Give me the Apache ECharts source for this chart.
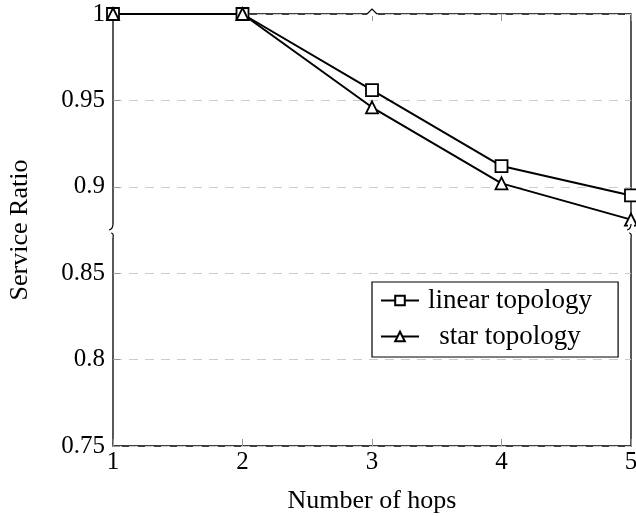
<!DOCTYPE html>
<html>
<head>
<meta charset="utf-8">
<script src="https://cdn.jsdelivr.net/npm/echarts@6/dist/echarts.min.js"></script>
<style>
  html, body { margin: 0; padding: 0; background: #fff; }
  #chart { width: 636px; height: 516px; }
</style>
</head>
<body>
<div id="chart"></div>
<script>
const hops = [1, 2, 3, 4, 5]
const linearTopology = [1, 1, 0.956, 0.912, 0.895]
const starTopology = [1, 1, 0.946, 0.902, 0.881]
const yTicks = [0.75, 0.8, 0.85, 0.9, 0.95, 1]

const font = 'Liberation Serif'
const chart = echarts.init(document.getElementById('chart'))

const pair = (xs, ys) => xs.map((x, i) => [x, ys[i]])
const tickFmt = v => {
  const t = yTicks.find(k => Math.abs(k - v) < 1e-6)
  return t === undefined ? '' : String(t)
}
const tick = { show: true, inside: true, length: 7, lineStyle: { color: '#999', width: 1 } }

chart.setOption({
  animation: false,
  grid: {
    left: 113, right: 5, top: 14, bottom: 70, outerBoundsMode: 'none',
    show: true, borderColor: '#000', borderWidth: 1.3,
  },
  xAxis: [{
    type: 'value', min: 1, max: 5, interval: 1,
    name: 'Number of hops', nameLocation: 'middle', nameGap: 42,
    nameTextStyle: { fontFamily: font, fontSize: 26, color: '#000' },
    axisLine: { show: false },
    axisTick: tick,
    axisLabel: { fontFamily: font, fontSize: 25, color: '#000', margin: 4 },
    splitLine: { show: false },
  }, {
    type: 'value', min: 1, max: 5, interval: 1, position: 'top',
    axisLine: { show: false }, axisTick: tick, axisLabel: { show: false }, splitLine: { show: false },
  }],
  yAxis: {
    type: 'value', min: 0.75, max: 1, interval: 0.05,
    name: 'Service Ratio', nameLocation: 'middle', nameGap: 80,
    nameTextStyle: { fontFamily: font, fontSize: 26, color: '#000' },
    axisLine: { show: false },
    axisTick: tick,
    axisLabel: { fontFamily: font, fontSize: 25, color: '#000', margin: 8, formatter: tickFmt },
    splitLine: { show: true, lineStyle: { color: '#ccc', type: [9, 7], width: 1.2 } },
  },
  legend: {
    orient: 'vertical', left: 372, top: 282,
    borderColor: '#000', borderWidth: 1.2, borderRadius: 0,
    padding: [5, 26, 7, 8], itemGap: 9, itemWidth: 38, itemHeight: 12,
    formatter: '{t|{name}}',
    textStyle: {
      fontFamily: font, fontSize: 27, color: '#000',
      rich: { t: { width: 172, align: 'center', fontFamily: font, fontSize: 27 } },
    },
    data: ['linear topology', 'star topology'],
  },
  series: [
    {
      name: 'linear topology', type: 'line', data: pair(hops, linearTopology),
      symbol: 'rect', symbolSize: 12, showSymbol: true,
      lineStyle: { color: '#000', width: 2 },
      itemStyle: { color: '#fff', borderColor: '#000', borderWidth: 1.8 },
    },
    {
      name: 'star topology', type: 'line', data: pair(hops, starTopology),
      symbol: 'triangle', symbolSize: 12, showSymbol: true,
      lineStyle: { color: '#000', width: 2 },
      itemStyle: { color: '#fff', borderColor: '#000', borderWidth: 1.8 },
    },
  ],
})

// axis break marks (left/right at ~0.875, top at hop 3)
const [gx0, by] = chart.convertToPixel({ gridIndex: 0 }, [1, 0.875])
const [gx1] = chart.convertToPixel({ gridIndex: 0 }, [5, 0.875])
const [mx, gy0] = chart.convertToPixel({ gridIndex: 0 }, [3, 1])
const wave = x => [
  { type: 'rect', shape: { x: x - 3, y: by - 6, width: 6, height: 14 }, style: { fill: '#fff' }, z: 10 },
  { type: 'bezierCurve', shape: { x1: x, y1: by - 6, cpx1: x, cpy1: by - 1, x2: x - 4, y2: by }, style: { stroke: '#000', lineWidth: 1.2, fill: null }, z: 11 },
  { type: 'bezierCurve', shape: { x1: x - 2, y1: by + 3, cpx1: x + 1, cpy1: by + 3, x2: x, y2: by + 8 }, style: { stroke: '#000', lineWidth: 1.2, fill: null }, z: 11 },
]
chart.setOption({
  graphic: [
    ...wave(gx0), ...wave(gx1),
    { type: 'rect', shape: { x: mx - 5, y: gy0 - 2, width: 10, height: 4 }, style: { fill: '#fff' }, z: 10 },
    { type: 'polyline', shape: { points: [[mx - 5, gy0], [mx, gy0 - 5], [mx + 5, gy0]] }, style: { stroke: '#000', lineWidth: 1.2, fill: null }, z: 11 },
  ],
})
</script>
</body>
</html>
